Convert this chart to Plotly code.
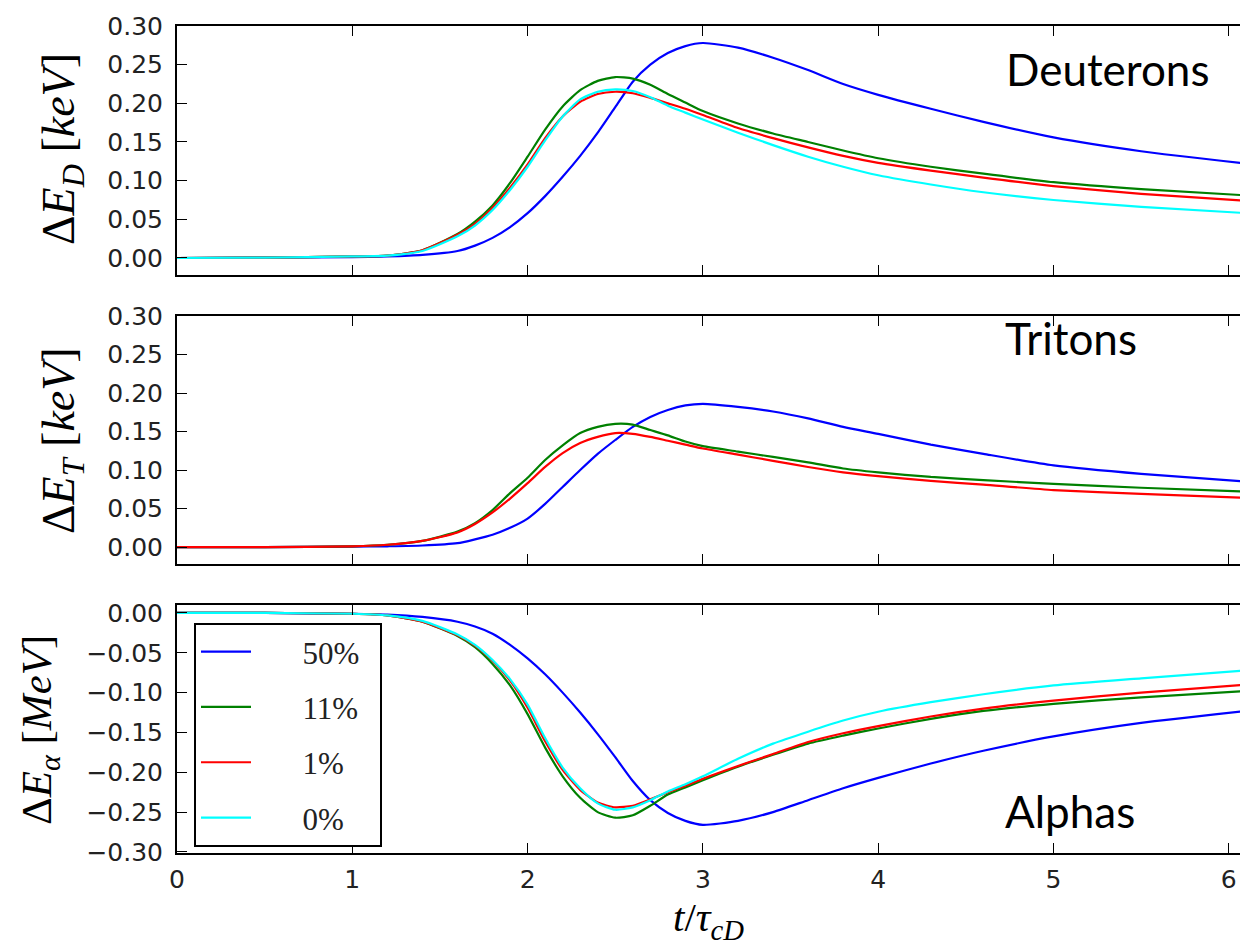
import plotly.graph_objects as go
from plotly.subplots import make_subplots

# Time axis, normalised to the deuteron slowing-down time
t = [0, 0.5, 1.0, 1.2, 1.4, 1.6, 1.7, 1.8, 1.9, 2.0, 2.1, 2.2, 2.3, 2.4, 2.5,
     2.6, 2.7, 2.8, 2.9, 3.0, 3.2, 3.4, 3.6, 3.8, 4.0, 4.3, 4.6, 5.0, 5.5, 6.1]

labels = ["50%", "11%", "1%", "0%"]
colors = ["#0000ff", "#008000", "#ff0000", "#00ffff"]

# Deuterons: energy change [keV]
d_50 = [0, 0.0005, 0.001, 0.002, 0.004, 0.009, 0.016, 0.026, 0.040, 0.058, 0.080, 0.105, 0.132, 0.162, 0.195,
        0.228, 0.250, 0.265, 0.274, 0.278, 0.272, 0.259, 0.243, 0.225, 0.211, 0.193, 0.176, 0.156, 0.138, 0.122]
d_11 = [0, 0.0005, 0.002, 0.003, 0.010, 0.031, 0.047, 0.068, 0.097, 0.131, 0.166, 0.196, 0.217, 0.229, 0.234,
        0.232, 0.224, 0.212, 0.201, 0.190, 0.174, 0.161, 0.150, 0.139, 0.129, 0.118, 0.109, 0.098, 0.089, 0.081]
d_1 = [0, 0.0005, 0.002, 0.003, 0.010, 0.030, 0.044, 0.065, 0.091, 0.121, 0.155, 0.183, 0.202, 0.212, 0.215,
       0.213, 0.207, 0.200, 0.193, 0.185, 0.168, 0.155, 0.143, 0.132, 0.123, 0.113, 0.104, 0.093, 0.083, 0.074]
d_0 = [0, 0.0005, 0.002, 0.003, 0.009, 0.028, 0.042, 0.062, 0.088, 0.118, 0.152, 0.183, 0.205, 0.215, 0.218,
       0.216, 0.208, 0.197, 0.188, 0.179, 0.162, 0.146, 0.131, 0.118, 0.107, 0.095, 0.085, 0.075, 0.066, 0.058]

# Tritons: energy change [keV]
t_50 = [0, 0, 0.0005, 0.001, 0.002, 0.005, 0.010, 0.016, 0.025, 0.037, 0.056, 0.078, 0.100, 0.121, 0.139,
        0.156, 0.169, 0.178, 0.184, 0.186, 0.182, 0.176, 0.167, 0.156, 0.147, 0.133, 0.121, 0.106, 0.095, 0.085]
t_11 = [0, 0, 0.001, 0.003, 0.008, 0.020, 0.031, 0.048, 0.070, 0.090, 0.113, 0.132, 0.148, 0.156, 0.160,
        0.159, 0.152, 0.145, 0.137, 0.131, 0.124, 0.117, 0.110, 0.102, 0.097, 0.091, 0.087, 0.082, 0.077, 0.072]
t_1 = [0, 0, 0.001, 0.003, 0.008, 0.019, 0.030, 0.045, 0.063, 0.083, 0.104, 0.122, 0.135, 0.143, 0.148,
       0.147, 0.143, 0.138, 0.133, 0.128, 0.120, 0.112, 0.104, 0.097, 0.092, 0.086, 0.081, 0.074, 0.069, 0.064]

# Alphas: energy change [MeV]
a_50 = [0, 0, -0.001, -0.002, -0.005, -0.011, -0.017, -0.026, -0.040, -0.057, -0.077, -0.100, -0.125, -0.152, -0.181,
        -0.211, -0.235, -0.251, -0.261, -0.266, -0.261, -0.250, -0.235, -0.220, -0.207, -0.189, -0.173, -0.155, -0.138, -0.123]
a_11 = [0, 0, -0.001, -0.003, -0.011, -0.029, -0.043, -0.064, -0.091, -0.127, -0.169, -0.205, -0.232, -0.250, -0.257,
        -0.254, -0.242, -0.228, -0.219, -0.210, -0.193, -0.178, -0.164, -0.154, -0.145, -0.133, -0.123, -0.114, -0.106, -0.098]
a_1 = [0, 0, -0.001, -0.003, -0.011, -0.028, -0.041, -0.060, -0.085, -0.119, -0.161, -0.197, -0.222, -0.238, -0.244,
       -0.242, -0.234, -0.225, -0.217, -0.208, -0.192, -0.177, -0.162, -0.151, -0.142, -0.130, -0.120, -0.110, -0.100, -0.090]
a_0 = [0, 0, -0.001, -0.003, -0.010, -0.027, -0.040, -0.059, -0.083, -0.115, -0.157, -0.194, -0.220, -0.239, -0.247,
       -0.244, -0.235, -0.224, -0.215, -0.205, -0.183, -0.164, -0.149, -0.135, -0.124, -0.112, -0.102, -0.091, -0.082, -0.072]

panels = [
    ([d_50, d_11, d_1, d_0], [0, 1, 2, 3]),
    ([t_50, t_11, t_1], [0, 1, 2]),
    ([a_50, a_11, a_1, a_0], [0, 1, 2, 3]),
]

W, H = 1240, 948
L, R, T, B = 177, 0, 26, 95
plot_w = W - L - R
plot_h = H - T - B
px_top = [26, 316, 605]
px_bot = [275, 564, 853]

fig = make_subplots(rows=3, cols=1, shared_xaxes=True)

for row, (series, idx) in enumerate(panels, start=1):
    for ys, i in zip(series, idx):
        fig.add_trace(
            go.Scatter(
                x=t, y=ys, mode="lines", name="\u2003\u2002" + labels[i] + "\u2002",
                line=dict(color=colors[i], width=2.2, shape="spline", smoothing=0.6),
                legendgroup=labels[i], showlegend=(row == 3),
            ),
            row=row, col=1,
        )

tick_font = dict(family="DejaVu Sans", size=25, color="#222222")
x_range = [0, plot_w / 175.3]

for row in range(1, 4):
    ydom = [(H - B - px_bot[row - 1]) / plot_h, (H - B - px_top[row - 1]) / plot_h]
    fig.update_yaxes(
        domain=ydom, showline=True, linecolor="black", linewidth=2,
        ticks="inside", ticklen=10, tickwidth=1, tickcolor="black",
        showgrid=False, zeroline=False, tickformat=".2f", tickfont=tick_font,
        dtick=0.05, ticklabelstandoff=7, row=row, col=1,
    )
    fig.update_xaxes(
        range=x_range, showline=True, linecolor="black", linewidth=2, mirror="allticks",
        ticks="inside", ticklen=10, tickwidth=1, tickcolor="black",
        showgrid=False, zeroline=False, dtick=1, tickfont=tick_font,
        ticklabelstandoff=3, showticklabels=(row == 3), row=row, col=1,
    )

fig.update_yaxes(range=[-0.022, 0.30], row=1, col=1)
fig.update_yaxes(range=[-0.022, 0.30], row=2, col=1)
fig.update_yaxes(range=[-0.3013, 0.010], row=3, col=1)

kev_font = dict(family="Liberation Serif", size=46, color="black")
mev_font = dict(family="Liberation Serif", size=43, color="black")
label_font = dict(family="Lato", size=44, color="black")


def paper_x(px):
    return (px - L) / plot_w


def paper_y(py):
    return (H - B - py) / plot_h


annotations = [
    dict(text="\u0394<i>E</i><sub><i>D</i></sub> [<i>keV</i>]", x=paper_x(62), y=paper_y(149),
         xref="paper", yref="paper", xanchor="center", yanchor="middle",
         textangle=-90, showarrow=False, font=kev_font),
    dict(text="\u0394<i>E</i><sub><i>T</i></sub> [<i>keV</i>]", x=paper_x(62), y=paper_y(441),
         xref="paper", yref="paper", xanchor="center", yanchor="middle",
         textangle=-90, showarrow=False, font=kev_font),
    dict(text="\u0394<i>E</i><sub><i>\u03b1</i></sub> [<i>MeV</i>]", x=paper_x(40), y=paper_y(730),
         xref="paper", yref="paper", xanchor="center", yanchor="middle",
         textangle=-90, showarrow=False, font=mev_font),
    dict(text="<i>t</i>/<i>\u03c4</i><sub><i>cD</i></sub>", x=paper_x(708), y=paper_y(920),
         xref="paper", yref="paper", xanchor="center", yanchor="middle",
         showarrow=False, font=dict(family="Liberation Serif", size=41, color="black")),
    dict(text="Deuterons", x=4.72, y=0.245, xref="x", yref="y", xanchor="left", yanchor="middle",
         showarrow=False, font=label_font),
    dict(text="Tritons", x=4.71, y=0.272, xref="x2", yref="y2", xanchor="left", yanchor="middle",
         showarrow=False, font=label_font),
    dict(text="Alphas", x=4.71, y=-0.248, xref="x3", yref="y3", xanchor="left", yanchor="middle",
         showarrow=False, font=label_font),
]

fig.update_layout(
    width=W, height=H,
    margin=dict(l=L, r=R, t=T, b=B),
    plot_bgcolor="white", paper_bgcolor="white",
    annotations=annotations,
    legend=dict(
        x=paper_x(194), y=paper_y(623), xanchor="left", yanchor="top",
        bgcolor="white", bordercolor="black", borderwidth=2,
        font=dict(family="Liberation Serif", size=31, color="#222222"),
        tracegroupgap=12, itemwidth=50,
    ),
)

fig.write_html("out.html")
